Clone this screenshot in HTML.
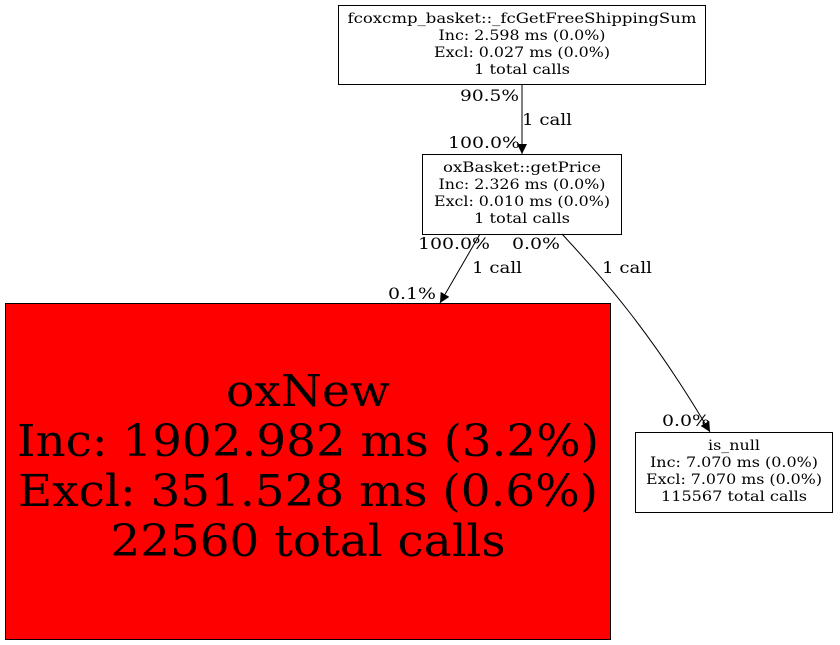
<!DOCTYPE html>
<html><head><style>html,body{margin:0;padding:0;background:#fff;}svg{display:block}</style></head>
<body>
<svg width="840" height="645" viewBox="0 0 840 645" xmlns="http://www.w3.org/2000/svg">
<defs><marker id="a" markerWidth="10" markerHeight="14" refX="10" refY="7" orient="auto" markerUnits="userSpaceOnUse"><path d="M0,2 L10,7 L0,12 z" fill="#000"/></marker></defs>
<g fill="none" stroke="#000" stroke-width="1">
<rect x="338.5" y="5.5" width="367" height="79" fill="#fff"/>
<rect x="422.5" y="154.5" width="199" height="80" fill="#fff"/>
<rect x="5.5" y="303.5" width="605" height="336" fill="#ff0000"/>
<rect x="635.5" y="432.5" width="197" height="80" fill="#fff"/>
<line x1="522" y1="84" x2="522" y2="154" marker-end="url(#a)"/>
<line x1="480" y1="234" x2="440" y2="303" marker-end="url(#a)"/>
<path d="M562,234 C600,275 650,330 710,432" marker-end="url(#a)"/>
</g>
<g font-family="DejaVu Serif, serif" font-size="14" text-anchor="middle" fill="#000">
<text x="522" y="23" textLength="349" lengthAdjust="spacingAndGlyphs">fcoxcmp_basket::_fcGetFreeShippingSum</text>
<text x="522" y="40" textLength="167" lengthAdjust="spacingAndGlyphs">Inc: 2.598 ms (0.0%)</text>
<text x="522" y="57" textLength="176" lengthAdjust="spacingAndGlyphs">Excl: 0.027 ms (0.0%)</text>
<text x="522" y="74" textLength="96" lengthAdjust="spacingAndGlyphs">1 total calls</text>
<text x="522" y="172" textLength="158" lengthAdjust="spacingAndGlyphs">oxBasket::getPrice</text>
<text x="522" y="189" textLength="167" lengthAdjust="spacingAndGlyphs">Inc: 2.326 ms (0.0%)</text>
<text x="522" y="206" textLength="176" lengthAdjust="spacingAndGlyphs">Excl: 0.010 ms (0.0%)</text>
<text x="522" y="223" textLength="96" lengthAdjust="spacingAndGlyphs">1 total calls</text>
<text x="734" y="450" textLength="52" lengthAdjust="spacingAndGlyphs">is_null</text>
<text x="734" y="467" textLength="168" lengthAdjust="spacingAndGlyphs">Inc: 7.070 ms (0.0%)</text>
<text x="734" y="484" textLength="176" lengthAdjust="spacingAndGlyphs">Excl: 7.070 ms (0.0%)</text>
<text x="734" y="501" textLength="146" lengthAdjust="spacingAndGlyphs">115567 total calls</text>
</g>
<g font-family="DejaVu Serif, serif" font-size="16" fill="#000">
<text x="460" y="101" textLength="59" lengthAdjust="spacingAndGlyphs">90.5%</text>
<text x="522" y="125" textLength="50" lengthAdjust="spacingAndGlyphs">1 call</text>
<text x="448" y="148" textLength="72" lengthAdjust="spacingAndGlyphs">100.0%</text>
<text x="418" y="249" textLength="72" lengthAdjust="spacingAndGlyphs">100.0%</text>
<text x="512" y="249" textLength="48" lengthAdjust="spacingAndGlyphs">0.0%</text>
<text x="472" y="273" textLength="50" lengthAdjust="spacingAndGlyphs">1 call</text>
<text x="602" y="273" textLength="50" lengthAdjust="spacingAndGlyphs">1 call</text>
<text x="388" y="299" textLength="48" lengthAdjust="spacingAndGlyphs">0.1%</text>
<text x="662" y="426" textLength="48" lengthAdjust="spacingAndGlyphs">0.0%</text>
</g>
<g font-family="DejaVu Serif, serif" font-size="44" text-anchor="middle" fill="#000">
<text x="308" y="406" textLength="164" lengthAdjust="spacingAndGlyphs">oxNew</text>
<text x="308" y="456" textLength="582" lengthAdjust="spacingAndGlyphs">Inc: 1902.982 ms (3.2%)</text>
<text x="308" y="506" textLength="580" lengthAdjust="spacingAndGlyphs">Excl: 351.528 ms (0.6%)</text>
<text x="308" y="556" textLength="395" lengthAdjust="spacingAndGlyphs">22560 total calls</text>
</g>
</svg>
</body></html>
